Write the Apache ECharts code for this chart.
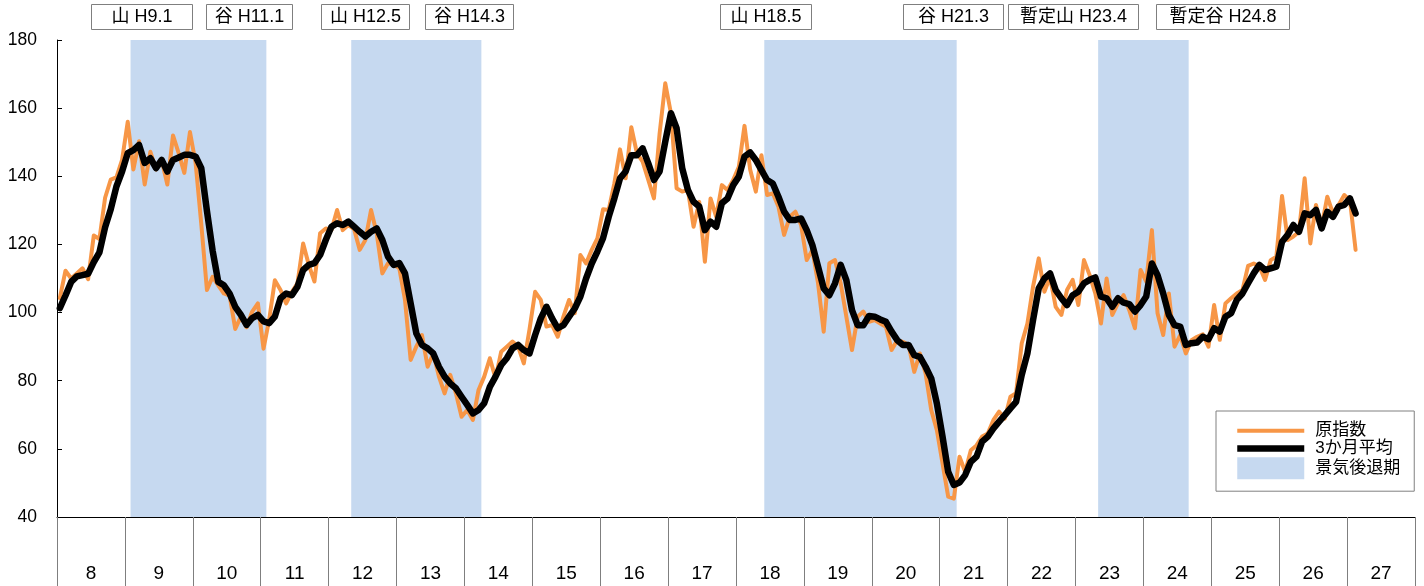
<!DOCTYPE html>
<html><head><meta charset="utf-8">
<script src="https://cdn.jsdelivr.net/npm/echarts@6/dist/echarts.min.js"></script>
<style>html,body{margin:0;padding:0;background:#fff}#c{width:1424px;height:586px}</style>
</head><body><div id="c"></div>
<script>
// ---- data ----
const years = ['8','9','10','11','12','13','14','15','16','17','18','19','20','21','22','23','24','25','26','27'];
const yTicks = [40, 60, 80, 100, 120, 140, 160, 180];
// 原指数 (monthly, H8.1 - H27.2)
const origIndex = [
 104.2,112.3,110.0,111.5,113.0,109.8,122.6,121.6,133.7,139.0,139.7,144.8,
 156.0,142.0,150.3,137.6,147.2,142.0,144.8,137.6,152.0,146.8,141.0,153.0,
 143.9,126.0,106.6,110.5,108.0,105.6,105.0,95.2,98.8,95.7,100.3,102.7,
 89.4,97.9,109.5,106.6,102.7,106.0,108.6,120.3,114.0,109.1,123.3,124.7,
 124.2,130.1,124.2,125.7,124.5,118.4,121.3,130.1,123.3,111.5,114.5,114.0,
 113.0,103.7,86.1,90.0,93.4,84.1,88.0,81.2,76.3,81.7,76.3,69.4,
 71.4,68.5,77.3,81.2,86.6,80.7,88.5,90.0,91.5,90.0,85.1,95.0,
 106.1,103.7,95.9,96.3,92.9,98.8,103.7,99.8,116.9,114.4,118.4,121.8,
 130.3,130.1,137.9,147.9,139.4,154.4,146.7,144.3,138.9,133.5,152.6,167.3,
 158.5,136.5,135.5,136.0,125.2,132.5,114.9,133.5,128.1,137.4,136.0,138.9,
 142.8,154.8,142.0,135.5,146.2,134.5,135.0,131.1,122.8,128.1,129.6,125.7,
 115.4,118.4,108.6,94.4,114.5,115.4,108.6,98.8,89.0,98.8,100.3,97.3,
 97.8,96.8,95.8,89.0,91.9,91.4,90.5,82.6,88.0,82.2,71.4,65.5,
 55.7,46.0,45.4,57.7,53.3,59.6,61.0,63.6,64.5,68.5,70.9,68.9,
 75.3,76.3,91.0,96.8,107.6,115.9,106.1,110.5,101.7,99.3,106.6,109.6,
 102.2,115.4,111.0,105.6,96.8,110.0,99.3,102.7,105.1,100.7,95.4,112.5,
 109.1,124.2,99.8,93.4,105.6,90.0,93.4,88.0,91.9,92.9,93.6,90.0,
 102.2,92.0,102.7,104.2,105.6,106.6,113.7,114.4,113.5,109.6,115.4,116.4,
 134.2,121.3,122.3,123.7,139.4,120.3,131.6,125.2,134.0,129.1,131.6,134.5,
 133.0,118.4
];
// 3か月平均
const avg3 = [
 101.3,105.0,109.0,110.6,111.0,111.4,114.8,117.7,125.0,130.3,137.0,141.4,
 146.8,147.7,149.2,143.9,145.3,142.4,144.8,141.4,144.8,145.5,146.3,146.3,
 145.8,142.4,129.8,118.2,109.0,108.0,105.6,101.7,99.3,96.4,98.4,99.3,
 97.4,96.9,98.8,104.2,105.6,105.1,107.6,112.5,114.0,114.5,116.9,121.3,
 125.2,126.2,125.7,126.7,125.2,123.7,122.3,123.7,124.7,121.3,116.4,114.0,
 114.5,111.5,102.7,93.9,90.5,89.5,88.0,84.1,81.2,79.2,77.8,75.3,
 72.9,70.4,71.4,73.4,78.2,81.2,84.6,86.6,89.5,90.5,89.0,88.0,
 93.4,98.3,101.7,98.3,95.4,96.3,98.8,101.2,104.7,110.0,114.4,117.9,
 121.8,128.1,133.5,139.4,141.4,146.2,146.2,148.2,143.8,138.9,141.4,150.2,
 158.5,154.1,142.3,136.0,132.5,131.1,124.2,126.7,125.2,132.1,133.5,137.4,
 139.9,145.8,147.0,144.8,141.8,138.9,137.9,134.0,129.6,127.2,127.2,127.6,
 124.2,119.8,113.5,107.1,105.1,108.6,114.0,109.5,100.7,96.3,96.3,99.0,
 98.8,98.0,97.3,94.4,91.9,90.5,90.5,87.5,87.0,84.1,80.7,73.3,
 63.6,53.3,49.4,50.1,52.3,56.2,57.7,62.1,63.6,66.0,68.0,69.9,
 71.9,73.8,81.7,88.0,97.8,107.1,110.0,111.5,106.6,104.2,102.2,105.1,
 106.1,108.6,109.6,110.3,104.7,104.2,101.7,104.2,102.9,102.5,100.3,102.2,
 104.7,114.4,111.0,105.6,99.3,96.3,95.9,90.5,91.0,91.2,92.9,92.2,
 95.4,94.4,98.8,99.8,103.7,105.6,108.6,111.5,114.0,112.5,113.0,113.5,
 120.8,122.8,125.7,123.7,129.1,128.6,130.1,124.7,129.6,128.1,131.1,131.6,
 133.5,129.1
];
// 景気後退期 (first and last month index, inclusive, counted from H8.1)
const recessionStart = [13, 52, 125, 184];
const recessionEnd   = [36, 74, 158, 199];
// 山・谷 labels
const turnLabels = ['山 H9.1','谷 H11.1','山 H12.5','谷 H14.3','山 H18.5','谷 H21.3','暫定山 H23.4','暫定谷 H24.8'];

// ---- layout / style ----
const boxLayout = [[91,101],[206,86],[321,88],[425,88],[720,91],[903,100],[1008,130],[1156,133]];
const FONT = "'Liberation Sans','Noto Sans CJK JP',sans-serif";
const SHADE = '#c6d9f0';

const months = [];
years.forEach(y => { for (let m = 1; m <= 12; m++) months.push('H' + y + '.' + m); });
const recessionAreas = recessionStart.map((s, k) => [{ xAxis: s }, { xAxis: recessionEnd[k] + 1 }]);

const graphics = [];
turnLabels.forEach((t, k) => {
  const [x, w] = boxLayout[k];
  graphics.push({ type: 'rect', shape: { x: x + 0.5, y: 4.5, width: w, height: 25 },
    style: { fill: '#fff', stroke: '#7f7f7f', lineWidth: 1 }, z: 100 });
  graphics.push({ type: 'text', x: x + w / 2 + 0.5, y: 17.5,
    style: { text: t, align: 'center', verticalAlign: 'middle', font: '18px ' + FONT, fill: '#000' }, z: 101 });
});

const chart = echarts.init(document.getElementById('c'), null, { renderer: 'canvas' });
chart.setOption({
  animation: false,
  backgroundColor: '#fff',
  grid: { left: 57, right: 9, top: 40, bottom: 69, containLabel: false, outerBoundsMode: 'none' },
  legend: {
    orient: 'vertical', left: 1216, top: 411,
    padding: [11, 14, 12, 18], itemWidth: 67, itemHeight: 22, itemGap: 0,
    borderColor: '#808080', borderWidth: 1, backgroundColor: '#fff', borderRadius: 0,
    lineStyle: { width: 'inherit', cap: 'butt' },
    textStyle: { fontSize: 17, fontFamily: FONT, color: '#000', padding: [0, 0, 0, 6] },
    data: [
      { name: '原指数', itemStyle: { opacity: 0 } },
      { name: '3か月平均', itemStyle: { opacity: 0 } },
      { name: '景気後退期', icon: 'rect' }
    ]
  },
  xAxis: [
    { type: 'category', data: months, boundaryGap: true, position: 'bottom',
      axisLine: { show: true, lineStyle: { color: '#000', width: 1 } },
      axisTick: { show: false }, axisLabel: { show: false }, splitLine: { show: false } },
    { type: 'category', data: years, boundaryGap: true, position: 'bottom',
      axisLine: { show: false },
      axisTick: { show: true, interval: 0, alignWithLabel: false, length: 70, lineStyle: { color: '#7f7f7f', width: 1 } },
      axisLabel: { interval: 0, margin: 47, fontSize: 19, fontFamily: FONT, color: '#000' },
      splitLine: { show: false } },
    { type: 'value', min: 0, max: months.length, show: false }
  ],
  yAxis: [
    { type: 'value', min: 40, max: 180, interval: 20,
      axisLine: { show: true, lineStyle: { color: '#000', width: 1 } },
      axisTick: { show: true, inside: true, length: 5, lineStyle: { color: '#000' } },
      axisLabel: { margin: 20, fontSize: 17.5, fontFamily: FONT, color: '#000',
        formatter: v => (yTicks.indexOf(v) >= 0 ? String(v) : '') },
      splitLine: { show: false } }
  ],
  graphic: graphics,
  series: [
    { name: '景気後退期', type: 'bar', xAxisIndex: 0, yAxisIndex: 0, data: [],
      color: SHADE, itemStyle: { color: SHADE } },
    { name: 'recessionShade', type: 'line', xAxisIndex: 2, yAxisIndex: 0, data: [],
      silent: true, symbol: 'none',
      markArea: { silent: true, itemStyle: { color: SHADE, opacity: 1 }, label: { show: false }, data: recessionAreas },
      z: 1 },
    { name: '原指数', type: 'line', xAxisIndex: 0, yAxisIndex: 0, data: origIndex,
      symbol: 'circle', showSymbol: false, color: '#f79646',
      lineStyle: { color: '#f79646', width: 4, join: 'round', cap: 'round' }, z: 2 },
    { name: '3か月平均', type: 'line', xAxisIndex: 0, yAxisIndex: 0, data: avg3,
      symbol: 'circle', showSymbol: false, color: '#000',
      lineStyle: { color: '#000', width: 6.5, join: 'round', cap: 'round' }, z: 3 }
  ]
});
</script>
</body></html>
